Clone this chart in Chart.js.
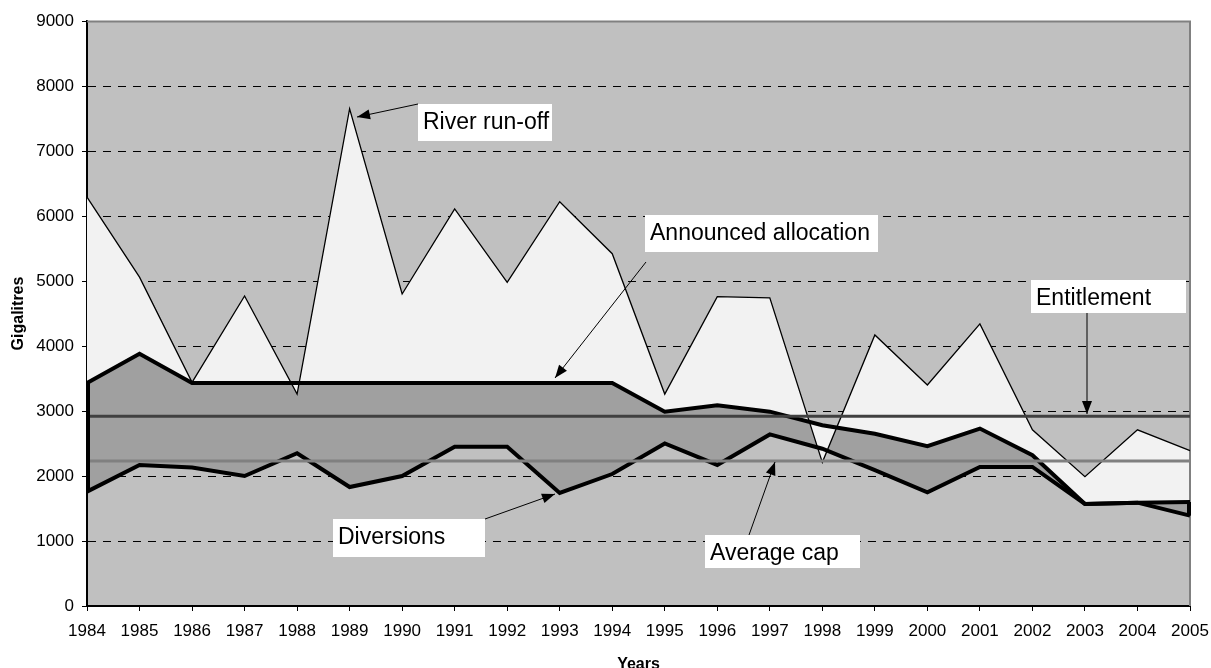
<!DOCTYPE html>
<html><head><meta charset="utf-8">
<script src="https://cdn.jsdelivr.net/npm/chart.js@4/dist/chart.umd.min.js"></script>
<style>html,body{margin:0;padding:0;background:#fff;overflow:hidden}#wrap{width:1211px;height:668px;position:relative}</style>
</head><body><div id="wrap"><canvas id="c" width="1211" height="668"></canvas></div>
<script>
// ---- data ----
const years = ['1984','1985','1986','1987','1988','1989','1990','1991','1992','1993','1994','1995','1996','1997','1998','1999','2000','2001','2002','2003','2004','2005'];
const riverRunoff = [6290,5060,3440,4770,3260,7650,4800,6110,4980,6220,5420,3260,4760,4740,2210,4170,3400,4340,2710,1990,2710,2390];
const announcedAllocation = [3430,3880,3430,3430,3430,3430,3430,3430,3430,3430,3430,2990,3090,2990,2780,2650,2460,2730,2320,1570,1590,1600];
const diversions = [1760,2170,2130,2000,2350,1830,2000,2450,2450,1740,2030,2500,2170,2640,2420,2090,1750,2140,2140,1570,1590,1390];
const entitlement = [2920,2920,2920,2920,2920,2920,2920,2920,2920,2920,2920,2920,2920,2920,2920,2920,2920,2920,2920,2920,2920,2920];
const averageCap = [2230,2230,2230,2230,2230,2230,2230,2230,2230,2230,2230,2230,2230,2230,2230,2230,2230,2230,2230,2230,2230,2230];
const yTicks = [0,1000,2000,3000,4000,5000,6000,7000,8000,9000];

const FONT = "'Liberation Sans', Arial, sans-serif";

const bgPlugin = {
  id: 'bg',
  beforeDraw(chart) {
    const {ctx, chartArea: a} = chart;
    ctx.save();
    ctx.fillStyle = '#c0c0c0';
    ctx.fillRect(a.left, a.top, a.right - a.left, a.bottom - a.top);
    ctx.restore();
  },
  beforeDatasetsDraw(chart) {
    const {ctx, chartArea: a} = chart;
    ctx.save();
    ctx.strokeStyle = '#808080';
    ctx.lineWidth = 2;
    ctx.beginPath();
    ctx.moveTo(a.left, a.top + 0.5); ctx.lineTo(a.right, a.top + 0.5);
    ctx.lineTo(a.right, a.bottom);
    ctx.stroke();
    ctx.restore();
  }
};

function arrow(ctx, x1, y1, x2, y2) {
  ctx.beginPath();
  ctx.moveTo(x1, y1); ctx.lineTo(x2, y2);
  ctx.stroke();
  const ang = Math.atan2(y2 - y1, x2 - x1);
  const L = 13, W = 5;
  const bx = x2 - L * Math.cos(ang), by = y2 - L * Math.sin(ang);
  ctx.beginPath();
  ctx.moveTo(x2, y2);
  ctx.lineTo(bx + W * Math.sin(ang), by - W * Math.cos(ang));
  ctx.lineTo(bx - W * Math.sin(ang), by + W * Math.cos(ang));
  ctx.closePath();
  ctx.fill();
}

const annoPlugin = {
  id: 'anno',
  afterDatasetsDraw(chart) {
    const {ctx} = chart;
    const xs = chart.scales.x, ys = chart.scales.y;
    const n = years.length - 1;
    ctx.save();
    // area edges at both ends
    ctx.strokeStyle = '#000';
    ctx.lineCap = 'butt';
    ctx.lineWidth = 4;
    [[0, 1], [n, -1]].forEach(([i, s]) => {
      const x = xs.getPixelForValue(i) + s * 1;
      ctx.beginPath();
      ctx.moveTo(x, ys.getPixelForValue(diversions[i]));
      ctx.lineTo(x, ys.getPixelForValue(announcedAllocation[i]));
      ctx.stroke();
    });
    // arrows
    ctx.lineWidth = 1;
    ctx.fillStyle = '#000';
    arrow(ctx, 418, 104, 357, 117);
    arrow(ctx, 646, 262, 555, 378);
    arrow(ctx, 1087, 313, 1087, 414);
    arrow(ctx, 485, 519, 555, 494);
    arrow(ctx, 749, 535, 775, 462);
    // boxes
    const boxes = [
      ['River run-off', 418, 104, 134, 37],
      ['Announced allocation', 645, 215, 233, 37],
      ['Entitlement', 1031, 280, 155, 33],
      ['Diversions', 333, 519, 152, 38],
      ['Average cap', 705, 535, 155, 33]
    ];
    ctx.font = '23px ' + FONT;
    ctx.textBaseline = 'alphabetic';
    ctx.textAlign = 'left';
    boxes.forEach(([t, x, y, w, h]) => {
      ctx.fillStyle = '#fff';
      ctx.fillRect(x, y, w, h);
      ctx.fillStyle = '#000';
      ctx.fillText(t, x + 5, y + 25);
    });
    ctx.restore();
  }
};

const common = {pointRadius: 0, pointHoverRadius: 0, tension: 0, borderJoinStyle: 'miter'};

new Chart(document.getElementById('c'), {
  type: 'line',
  data: {
    labels: years,
    datasets: [
      Object.assign({label: 'Entitlement', data: entitlement, borderColor: '#404040', borderWidth: 3, fill: false}, common),
      Object.assign({label: 'Average cap', data: averageCap, borderColor: '#808080', borderWidth: 3, fill: false}, common),
      Object.assign({label: 'Diversions', data: diversions, borderColor: '#000', borderWidth: 4, fill: false}, common),
      Object.assign({label: 'River run-off', data: riverRunoff, borderColor: '#000', borderWidth: 1.3, fill: 4, backgroundColor: '#f2f2f2'}, common),
      Object.assign({label: 'Announced allocation', data: announcedAllocation, borderColor: '#000', borderWidth: 4, fill: 2, backgroundColor: '#a0a0a0'}, common)
    ]
  },
  options: {
    responsive: false,
    animation: false,
    devicePixelRatio: 1,
    layout: {padding: {top: 21, right: 21, left: 0, bottom: -6}},
    plugins: {
      legend: {display: false},
      tooltip: {enabled: false},
      filler: {drawTime: 'beforeDatasetsDraw'}
    },
    scales: {
      x: {
        type: 'category',
        offset: false,
        afterFit(s) { s.height = 68; s.paddingLeft = 0; s.paddingRight = 0; },
        grid: {drawOnChartArea: false, drawTicks: true, tickLength: 5, color: '#000', tickColor: '#000', lineWidth: 1},
        border: {display: true, color: '#000', width: 2},
        ticks: {color: '#000', font: {family: FONT, size: 17}, padding: 10, maxRotation: 0, autoSkip: false},
        title: {display: true, text: 'Years', color: '#000', font: {family: FONT, size: 16, weight: 'bold'}, padding: {top: 2, bottom: 0}}
      },
      y: {
        min: 0, max: 9000,
        afterFit(s) { s.width = 87; s.paddingTop = 0; s.paddingBottom = 0; },
        afterBuildTicks(s) { s.ticks = yTicks.map(v => ({value: v})); },
        grid: {
          drawTicks: true, tickLength: 5, lineWidth: 1, tickColor: '#000',
          color: c => (c.tick && (c.tick.value === 0 || c.tick.value === 9000)) ? 'rgba(0,0,0,0)' : '#000'
        },
        border: {display: true, color: '#000', width: 2, dash: [8, 7]},
        ticks: {color: '#000', font: {family: FONT, size: 17}, padding: 8, callback: v => String(v)},
        title: {display: true, text: 'Gigalitres', color: '#000', font: {family: FONT, size: 16, weight: 'bold'}, padding: {top: 9, bottom: 0}}
      }
    }
  },
  plugins: [bgPlugin, annoPlugin]
});
</script>
</body></html>
